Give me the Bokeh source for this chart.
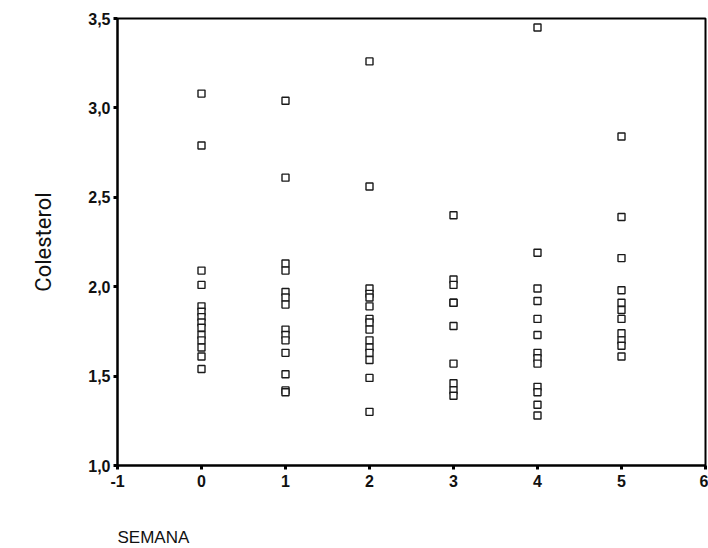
from bokeh.plotting import figure
from bokeh.models import FixedTicker, Title, Range1d
from bokeh.embed import file_html
from bokeh.resources import INLINE

# Data: cholesterol per week (SEMANA)
semana0 = [3.08, 2.79, 2.09, 2.01, 1.89, 1.86, 1.83, 1.80, 1.77, 1.73, 1.70, 1.66, 1.61, 1.54]
semana1 = [3.04, 2.61, 2.13, 2.09, 1.97, 1.94, 1.90, 1.76, 1.73, 1.70, 1.63, 1.51, 1.42, 1.41]
semana2 = [3.26, 2.56, 1.99, 1.96, 1.94, 1.89, 1.82, 1.80, 1.76, 1.70, 1.66, 1.63, 1.59, 1.49, 1.30]
semana3 = [2.40, 2.04, 2.01, 1.91, 1.91, 1.78, 1.57, 1.46, 1.42, 1.39]
semana4 = [3.45, 2.19, 1.99, 1.92, 1.82, 1.73, 1.63, 1.60, 1.57, 1.44, 1.41, 1.34, 1.28]
semana5 = [2.84, 2.39, 2.16, 1.98, 1.91, 1.87, 1.82, 1.74, 1.70, 1.67, 1.61]
weeks = [0, 1, 2, 3, 4, 5]
series = [semana0, semana1, semana2, semana3, semana4, semana5]

x_ticks = [-1, 0, 1, 2, 3, 4, 5, 6]
x_tick_labels = ["-1", "0", "1", "2", "3", "4", "5", "6"]
y_ticks = [1.0, 1.5, 2.0, 2.5, 3.0, 3.5]
y_tick_labels = ["1,0", "1,5", "2,0", "2,5", "3,0", "3,5"]

xs, ys = [], []
for w, vals in zip(weeks, series):
    xs.extend([w] * len(vals))
    ys.extend(vals)

p = figure(width=708, height=548, output_backend="svg", toolbar_location=None,
           x_range=Range1d(-1, 6), y_range=Range1d(1.0, 3.5),
           min_border_left=117, min_border_right=3, min_border_top=18, min_border_bottom=82)

p.scatter(xs, ys, marker="square", size=7, fill_color="white",
          line_color="#1a1a1a", line_width=1.4)

p.xgrid.visible = False
p.ygrid.visible = False
p.outline_line_color = "black"
p.outline_line_width = 2
p.outline_line_alpha = 1

tick_font = "Liberation Sans"
for ax in (p.xaxis[0], p.yaxis[0]):
    ax.axis_line_color = "black"
    ax.axis_line_width = 2
    ax.major_tick_line_color = "black"
    ax.major_tick_line_width = 3
    ax.major_tick_in = 0
    ax.major_tick_out = 4
    ax.minor_tick_line_color = None
    ax.major_label_text_font = tick_font
    ax.major_label_text_font_style = "bold"
    ax.major_label_text_font_size = "16px"
    ax.major_label_text_color = "#111111"

p.xaxis[0].ticker = FixedTicker(ticks=x_ticks)
p.xaxis[0].major_label_overrides = {t: l for t, l in zip(x_ticks, x_tick_labels)}
p.xaxis[0].major_label_standoff = 5
p.yaxis[0].ticker = FixedTicker(ticks=y_ticks)
p.yaxis[0].major_label_overrides = {t: l for t, l in zip(y_ticks, y_tick_labels)}
p.yaxis[0].major_label_standoff = 3

p.yaxis[0].axis_label = "Colesterol"
p.yaxis[0].axis_label_text_font = "Roboto"
p.yaxis[0].axis_label_text_font_style = "normal"
p.yaxis[0].axis_label_text_font_size = "22px"
p.yaxis[0].axis_label_text_color = "#111111"
p.yaxis[0].axis_label_standoff = 29

# spacer, then the x-axis caption aligned with the left edge of the frame
p.add_layout(Title(text=" ", text_font_size="18px", standoff=12), "below")
p.add_layout(Title(text="SEMANA", align="left", text_font="Liberation Sans",
                   text_font_size="17px", text_font_style="normal",
                   text_color="#111111", standoff=4), "below")

open("out.html", "w").write(file_html(p, INLINE))
